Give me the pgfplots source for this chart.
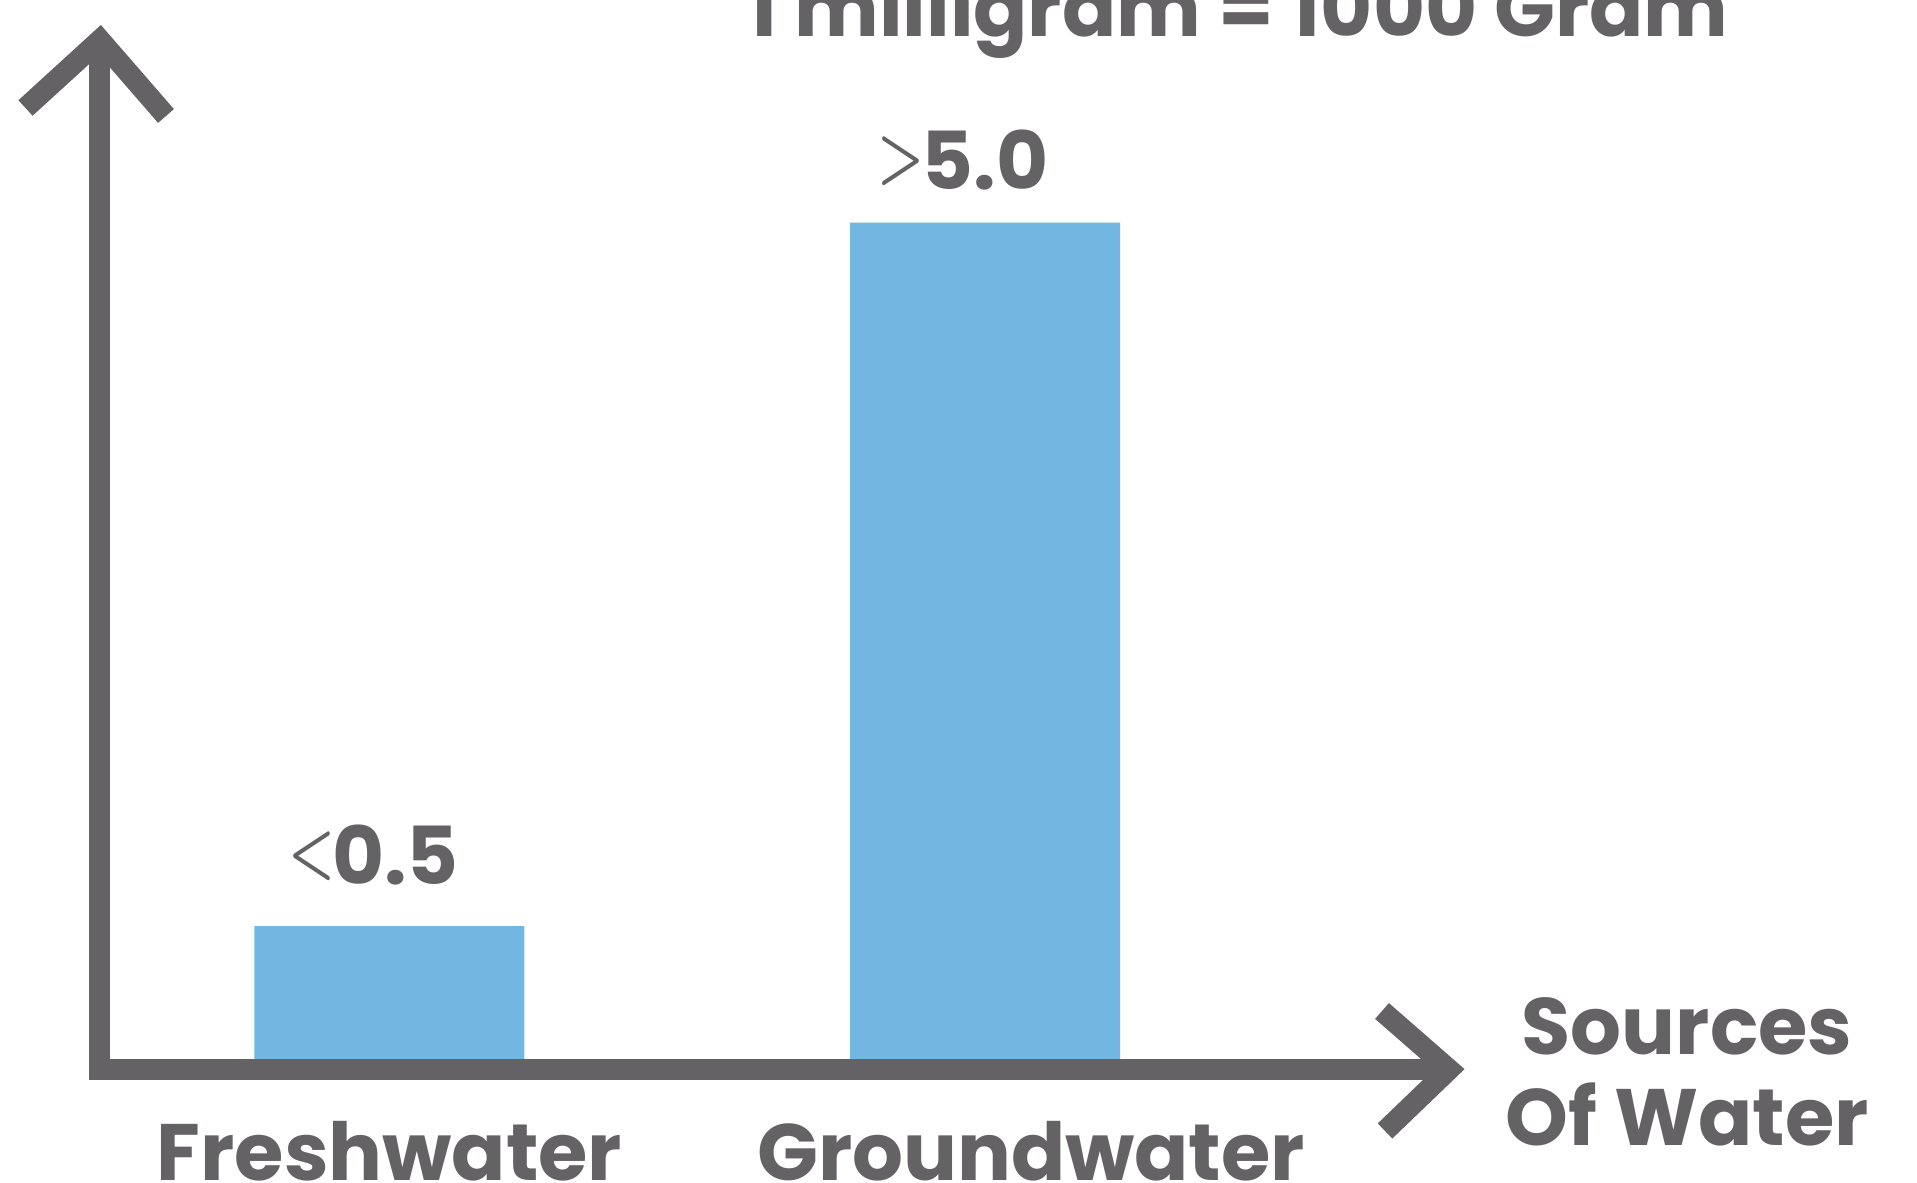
\documentclass[border=0pt]{standalone}
\usepackage{fontspec}
\setmainfont{Poppins}
\usepackage{graphicx}
\usepackage{pgfplots}
\pgfplotsset{compat=1.18}
\definecolor{txt}{RGB}{100,98,101}
\definecolor{barc}{RGB}{114,183,226}
\newcommand\bigf{\bfseries\fontsize{22.76}{26}\selectfont}
\newcommand\lt{\llap{\raisebox{0.95mm}{\scalebox{0.72}[1]{\fontsize{20}{22}\selectfont\boldmath$<$}}\kern-0.3mm}}
\newcommand\gt{\llap{\raisebox{0.95mm}{\scalebox{0.72}[1]{\fontsize{20}{22}\selectfont\boldmath$>$}}\kern-0.3mm}}
\begin{document}
\begin{tikzpicture}[x=0.1mm,y=0.1mm]
\path[use as bounding box, clip] (0,0) rectangle (1917,1183);
\begin{axis}[
  at={(9.9mm,12.3mm)}, anchor=south west,
  scale only axis, width=134.2mm, height=103.5mm,
  xmin=-0.4878, xmax=1.7657, ymin=0, ymax=6.181,
  axis line style={draw=none}, ymajorticks=false, major tick length=0pt,
  xtick={0,1.0773}, xticklabels={Freshwater,Groundwater},
  xticklabel style={anchor=base, yshift=-12.1mm, font=\bigf, text=txt},
  ybar, bar width=27mm, clip=false,
  nodes near coords, point meta=explicit symbolic,
  every node near coord/.append style={font=\bigf, text=txt, anchor=base, yshift=3.34mm},
]
\addplot[fill=barc, draw=none] coordinates {(0,0.8) [\hspace*{1.2mm}\raisebox{0.86mm}{\lt0.5}] (1,5.0) [\gt5.0]};
\end{axis}
\draw[txt, line width=2.1mm, line join=miter] (99,1143) -- (99,113.5) -- (1449,113.5);
\draw[txt, line width=2.1mm, line join=miter] (25.5,1075) -- (100,1143) -- (166,1067);
\draw[txt, line width=2.1mm, line join=miter] (1382,172) -- (1449,113.5) -- (1385,52);
\node[anchor=base, text=txt, font=\bigf, inner sep=0pt] at (1238,1146.3) {1 milligram = 1000 Gram};
\node[anchor=base, text=txt, font=\bigf, inner sep=0pt] at (1687,128) {Sources};
\node[anchor=base, text=txt, font=\bigf, inner sep=0pt] at (1687,37) {Of Water};
\end{tikzpicture}
\end{document}
